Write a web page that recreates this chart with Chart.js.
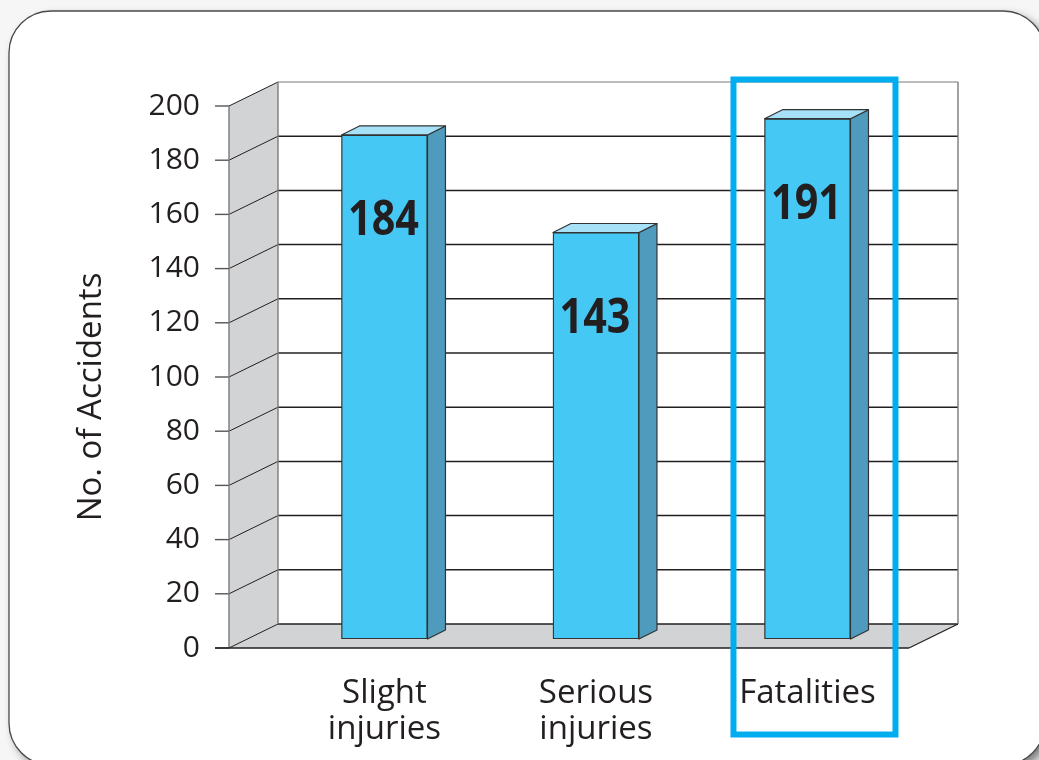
<!DOCTYPE html>
<html>
<head>
<meta charset="utf-8">
<script src="https://cdn.jsdelivr.net/npm/chart.js@4.4.1/dist/chart.umd.min.js"></script>
<style>
  html, body { margin: 0; padding: 0; background: #ffffff; overflow: hidden; }
  #c { display: block; }
</style>
</head>
<body>
<canvas id="c" width="1039" height="760"></canvas>
<script>
// ---- data ----
const categories = [['Slight', 'injuries'], ['Serious', 'injuries'], ['Fatalities']];
const barValues = [186, 150, 192];          // bar heights as drawn
const barLabels = ['184', '143', '191'];    // numbers printed on the bars
const yTitle = 'No. of Accidents';
const yMin = 0, yMax = 200, yStep = 20;
const highlightIndex = 2;

// ---- styling constants ----
const DX = 49, DY = -24;        // wall depth
const BDX = 18, BDY = -9;       // bar depth
const BAR_SHIFT_Y = -9;         // bars stand in middle of floor depth
const DARK = '#231F20';
const GRAY_LINE = '#7a7a7a';
const WALL = '#D1D3D4';

function poly(ctx, pts, fill, stroke, lw) {
  ctx.beginPath();
  ctx.moveTo(pts[0][0], pts[0][1]);
  for (let i = 1; i < pts.length; i++) ctx.lineTo(pts[i][0], pts[i][1]);
  ctx.closePath();
  if (fill) { ctx.fillStyle = fill; ctx.fill(); }
  if (stroke) { ctx.strokeStyle = stroke; ctx.lineWidth = lw || 1; ctx.stroke(); }
}
function line(ctx, x1, y1, x2, y2, color, lw) {
  ctx.beginPath();
  ctx.moveTo(x1, y1); ctx.lineTo(x2, y2);
  ctx.strokeStyle = color; ctx.lineWidth = lw; ctx.stroke();
}

const scenePlugin = {
  id: 'scene3d',
  beforeDraw(chart) {
    const ctx = chart.ctx;
    ctx.save();
    ctx.fillStyle = '#f6f6f6';
    ctx.fillRect(0, 0, chart.width, chart.height);
    ctx.shadowColor = 'rgba(0,0,0,0.5)';
    ctx.shadowBlur = 10;
    ctx.shadowOffsetX = 5;
    ctx.shadowOffsetY = 5;
    ctx.beginPath();
    ctx.roundRect(9, 11, 1036, 754, 42);
    ctx.fillStyle = '#ffffff';
    ctx.fill();
    ctx.shadowColor = 'transparent';
    ctx.lineWidth = 1.3;
    ctx.strokeStyle = '#4a4a4a';
    ctx.stroke();
    ctx.restore();
  },
  beforeDatasetsDraw(chart) {
    const { ctx, chartArea: a, scales: { y } } = chart;
    const L = a.left, R = a.right;
    const T = y.getPixelForValue(yMax), B = y.getPixelForValue(yMin);
    ctx.save();
    // back wall
    ctx.fillStyle = '#ffffff';
    ctx.fillRect(L + DX, T + DY, R - L, B - T);
    // left wall & floor
    poly(ctx, [[L, T], [L + DX, T + DY], [L + DX, B + DY], [L, B]], WALL);
    poly(ctx, [[L, B], [L + DX, B + DY], [R + DX, B + DY], [R, B]], WALL);
    // grid lines
    y.ticks.forEach(t => {
      const p = y.getPixelForValue(t.value);
      const top = t.value === yMax;
      line(ctx, L + DX, p + DY, R + DX, p + DY, top ? GRAY_LINE : DARK, top ? 1.2 : 1.5);
      line(ctx, L, p, L + DX, p + DY, DARK, 1);
      line(ctx, L - 14, p, L, p, '#555555', 1.4);
    });
    // outlines
    line(ctx, L, T, L, B, GRAY_LINE, 1.4);
    line(ctx, L + DX, T + DY, L + DX, B + DY, GRAY_LINE, 1.4);
    line(ctx, R + DX, T + DY, R + DX, B + DY, GRAY_LINE, 1.4);
    line(ctx, L - 14, B, R, B, DARK, 1.5);
    line(ctx, R, B, R + DX, B + DY, DARK, 1.2);
    ctx.restore();
    ctx.save();
    ctx.translate(0, BAR_SHIFT_Y);
  },
  afterDatasetsDraw(chart) {
    const ctx = chart.ctx;
    const meta = chart.getDatasetMeta(0);
    meta.data.forEach((bar, i) => {
      const { x, y, base, width } = bar.getProps(['x', 'y', 'base', 'width'], true);
      const l = x - width / 2, r = x + width / 2;
      ctx.lineJoin = 'round';
      poly(ctx, [[r, y], [r + BDX, y + BDY], [r + BDX, base + BDY], [r, base]], '#4F9BBD', '#333333', 1.2);
      poly(ctx, [[l, y], [l + BDX, y + BDY], [r + BDX, y + BDY], [r, y]], '#A6E1F7', '#333333', 1.2);
      ctx.save();
      ctx.translate(x - 1, y + 100);
      ctx.scale(0.86, 1);
      ctx.font = 'bold 48px "Open Sans"';
      ctx.fillStyle = DARK;
      ctx.textAlign = 'center';
      ctx.textBaseline = 'alphabetic';
      ctx.fillText(barLabels[i], 0, 0);
      ctx.restore();
    });
    ctx.restore(); // undo bar shift
  },
  afterDraw(chart) {
    const { ctx, scales: { x, y } } = chart;
    ctx.save();
    // y axis title
    ctx.translate(92, 397);
    ctx.rotate(-Math.PI / 2);
    ctx.font = '33px "Open Sans"';
    ctx.fillStyle = DARK;
    ctx.textAlign = 'center';
    ctx.textBaseline = 'middle';
    ctx.fillText(yTitle, 0, 0);
    ctx.restore();
    // highlight box
    const cx = x.getPixelForValue(highlightIndex) + 7;
    const top = y.getPixelForValue(yMax) - 26.5;
    ctx.save();
    ctx.strokeStyle = '#00AEEF';
    ctx.lineWidth = 6;
    ctx.strokeRect(cx - 81, top, 162, 734.5 - top);
    ctx.restore();
  }
};

new Chart(document.getElementById('c'), {
  type: 'bar',
  data: {
    datasets: [{
      data: barValues.map((v, i) => ({ x: i, y: v })),
      backgroundColor: '#46C8F5',
      borderColor: '#333333',
      borderWidth: 1.3,
      borderSkipped: false,
      barThickness: 86
    }]
  },
  plugins: [scenePlugin],
  options: {
    responsive: false,
    devicePixelRatio: 1,
    animation: false,
    layout: { padding: { top: 106, right: 130, bottom: 0, left: 0 } },
    plugins: { legend: { display: false }, tooltip: { enabled: false } },
    scales: {
      x: {
        type: 'linear',
        offset: false,
        min: -0.735,
        max: 2.48,
        grid: { display: false, offset: false },
        border: { display: false },
        ticks: {
          stepSize: 1,
          includeBounds: false,
          autoSkip: false,
          maxRotation: 0,
          padding: 19,
          color: DARK,
          font: { family: 'Open Sans', size: 33, lineHeight: 1.1 },
          callback: v => (Number.isInteger(v) && categories[v]) ? categories[v] : ''
        },
        afterFit: s => { s.height = 112; }
      },
      y: {
        min: yMin,
        max: yMax,
        grid: { display: false },
        border: { display: false },
        ticks: {
          stepSize: yStep,
          padding: 21,
          color: DARK,
          font: { family: 'Open Sans', size: 30 }
        },
        afterFit: s => { s.width = 229; }
      }
    }
  }
});
</script>
</body>
</html>
